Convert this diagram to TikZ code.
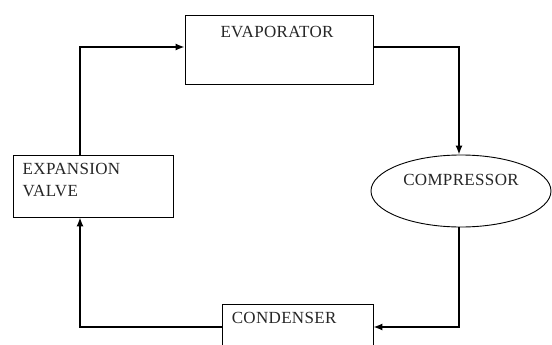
\documentclass[tikz,border=0pt]{standalone}
\usepackage{fontspec}
\setmainfont[LetterSpace=2]{Liberation Serif}
\usetikzlibrary{arrows.meta,shapes.geometric}

\begin{document}
\begin{tikzpicture}[x=1pt,y=-1pt,
  unit/.style={draw,line width=0.9pt,inner sep=0pt},
  lbl/.style={font=\fontsize{17}{22}\selectfont,inner sep=0pt,text=black!85},
  flow/.style={line width=1.4pt,-{Latex[length=9pt,width=7pt]}}]
\useasboundingbox[fill=white](0,0)rectangle(552,345);
\clip(0,0)rectangle(552,345);
% components of the cycle
\node[unit,rectangle,minimum width=188,minimum height=69,
  label={[lbl,anchor=north,yshift=-11,xshift=-2]north:EVAPORATOR}](evaporator)at(279,49.5){};
\node[unit,ellipse,minimum width=180,minimum height=72,
  label={[lbl,yshift=11]center:COMPRESSOR}](compressor)at(461,191){};
\node[unit,rectangle,minimum width=151,minimum height=46,
  label={[lbl,anchor=north west,xshift=10,yshift=-8]north west:CONDENSER}](condenser)at(297.5,327){};
\node[unit,rectangle,minimum width=160,minimum height=62,
  label={[lbl,anchor=north west,align=left,xshift=10,yshift=-8]north west:EXPANSION\\VALVE}](expvalve)at(93,186){};
% refrigerant flow
\draw[flow]([xshift=-13]expvalve.north)|-([yshift=2.5]evaporator.west);
\draw[flow]([yshift=2.5]evaporator.east)-|([xshift=-2]compressor.north);
\draw[flow]([xshift=-2]compressor.south)|-(condenser.east);
\draw[flow](condenser.west)-|([xshift=-13]expvalve.south);
\end{tikzpicture}
\end{document}
